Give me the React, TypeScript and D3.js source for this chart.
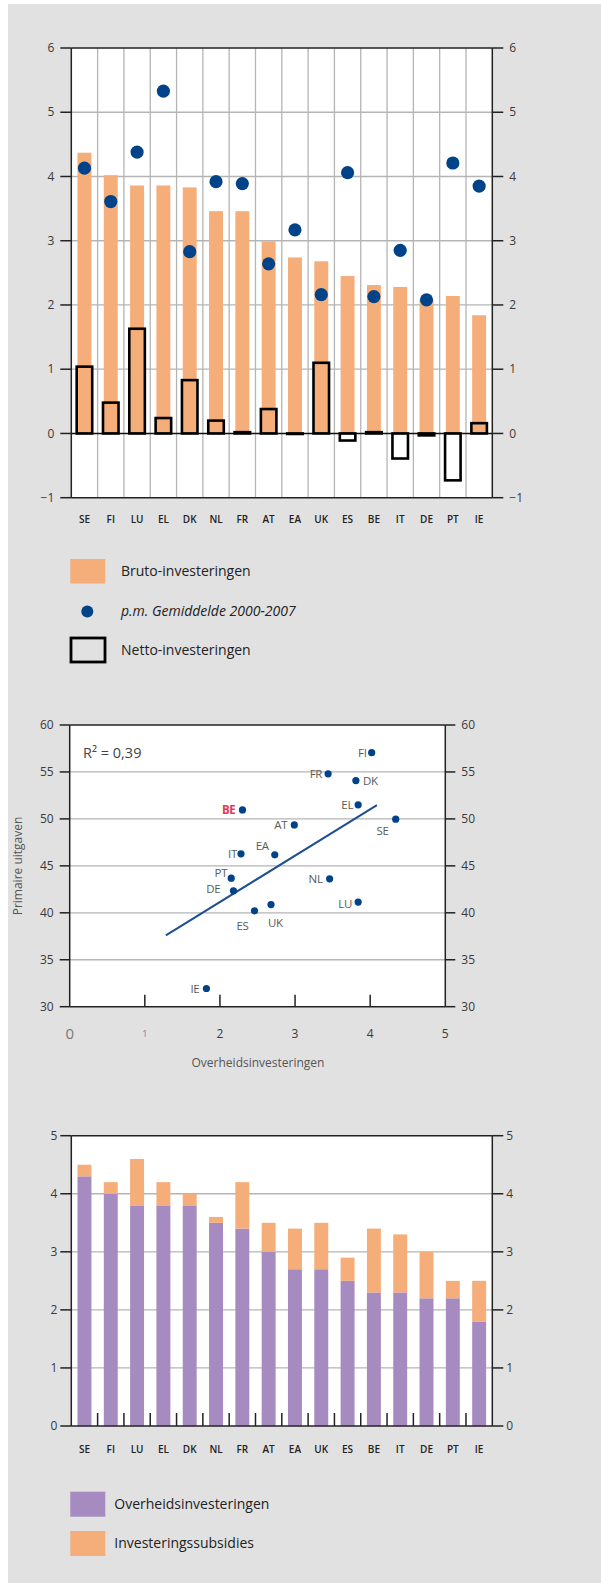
import React from 'react';
import * as d3 from 'd3';

// ---------- Data ----------
const countries = ['SE', 'FI', 'LU', 'EL', 'DK', 'NL', 'FR', 'AT', 'EA', 'UK', 'ES', 'BE', 'IT', 'DE', 'PT', 'IE'];
const brutoInvesteringen = [4.37, 4.02, 3.86, 3.86, 3.83, 3.46, 3.46, 2.99, 2.74, 2.68, 2.45, 2.31, 2.28, 2.08, 2.14, 1.84];
const gemiddelde20002007 = [4.13, 3.61, 4.38, 5.33, 2.83, 3.92, 3.89, 2.64, 3.17, 2.16, 4.06, 2.13, 2.85, 2.08, 4.21, 3.85];
const nettoInvesteringen = [1.04, 0.48, 1.63, 0.24, 0.83, 0.2, 0.02, 0.38, 0.0, 1.1, -0.11, 0.02, -0.39, -0.03, -0.73, 0.16];
const chart1Ticks = [-1, 0, 1, 2, 3, 4, 5, 6];

const scatterCountries = ['FI', 'FR', 'DK', 'EL', 'SE', 'BE', 'AT', 'IT', 'EA', 'PT', 'DE', 'NL', 'ES', 'UK', 'LU', 'IE'];
const scatterInvesteringen = [4.02, 3.44, 3.81, 3.84, 4.34, 2.3, 2.99, 2.28, 2.73, 2.15, 2.18, 3.46, 2.46, 2.68, 3.84, 1.82];
const scatterPrimaireUitgaven = [57.05, 54.8, 54.08, 51.5, 49.97, 50.96, 49.36, 46.28, 46.17, 43.69, 42.34, 43.62, 40.21, 40.88, 41.14, 31.94];
const trendX = [1.28, 4.09];
const trendY = [37.6, 51.46];
const scatterYTicks = [30, 35, 40, 45, 50, 55, 60];
const scatterXTicks = [0, 1, 2, 3, 4, 5];
const rSquaredLabel = 'R² = 0,39';

const overheidsInvesteringen = [4.3, 4.0, 3.8, 3.8, 3.8, 3.5, 3.4, 3.0, 2.7, 2.7, 2.5, 2.3, 2.3, 2.2, 2.2, 1.8];
const investeringsSubsidies = [0.2, 0.2, 0.8, 0.4, 0.2, 0.1, 0.8, 0.5, 0.7, 0.8, 0.4, 1.1, 1.0, 0.8, 0.3, 0.7];
const chart3Ticks = [0, 1, 2, 3, 4, 5];

// ---------- Layout / style (not data) ----------
const FONT = "'Open Sans', 'Noto Sans', sans-serif";
const ORANGE = '#f5ad7a';
const PURPLE = '#a68bc1';
const BLUE = '#004388';
const GRID = '#b5b5b5';
const BG = '#e1e1e1';
const TXT = '#3a3a3a';

const labelOffsets: Record<string, [number, number, string]> = {
  FI: [-5, 0, 'end'], FR: [-6, 0, 'end'], DK: [7, 0, 'start'], EL: [-5, 0, 'end'],
  SE: [-7, 12, 'end'], BE: [-7, 0, 'end'], AT: [-7, 0, 'end'], IT: [-4, 0, 'end'],
  EA: [-6, -9, 'end'], PT: [-4, -5, 'end'], DE: [-13, -2, 'end'], NL: [-7, 0, 'end'],
  ES: [-6, 15, 'end'], UK: [-3, 18, 'start'], LU: [-6, 2, 'end'], IE: [-7, 0, 'end'],
};
const xTickStyle: Record<number, [number, string]> = {
  0: [15, '#777'], 1: [9, '#6b7fa3'], 2: [12, TXT], 3: [12, TXT], 4: [12, TXT], 5: [12, TXT],
};

const fmt = (v: number) => (v < 0 ? '\u2212' + Math.abs(v) : String(v));

function Chart1() {
  const left = 71.3, right = 492.3, top = 48, bottom = 497.7;
  const x = d3.scaleBand<string>().domain(countries).range([left, right]).padding(0);
  const y = d3.scaleLinear().domain([-1, 6]).range([bottom, top]);
  const bw = x.bandwidth();
  const barW = bw * 0.53;
  const netW = bw * 0.59;
  return (
    <g>
      <rect x={left} y={top} width={right - left} height={bottom - top} fill="#fff" />
      {chart1Ticks.filter(t => t !== 0 && t !== 6 && t !== -1).map(t => (
        <line key={'h' + t} x1={left} x2={right} y1={y(t)} y2={y(t)} stroke={GRID} strokeWidth={1.3} />
      ))}
      {countries.slice(1).map(c => (
        <line key={'v' + c} x1={x(c)!} x2={x(c)!} y1={top} y2={bottom} stroke={GRID} strokeWidth={1.3} />
      ))}
      {countries.map((c, i) => (
        <rect key={'b' + c} x={x(c)! + (bw - barW) / 2} y={y(brutoInvesteringen[i])} width={barW}
          height={y(0) - y(brutoInvesteringen[i])} fill={ORANGE} />
      ))}
      <line x1={left} x2={right} y1={y(0)} y2={y(0)} stroke="#111" strokeWidth={1.5} />
      {countries.map((c, i) => {
        const v = nettoInvesteringen[i];
        const y0 = y(Math.max(0, v));
        const y1 = y(Math.min(0, v));
        return (
          <rect key={'n' + c} x={x(c)! + (bw - netW) / 2} y={y0} width={netW} height={Math.max(0.5, y1 - y0)}
            fill="none" stroke="#000" strokeWidth={2.6} />
        );
      })}
      {countries.map((c, i) => (
        <circle key={'d' + c} cx={x(c)! + bw / 2} cy={y(gemiddelde20002007[i])} r={6.6} fill={BLUE} />
      ))}
      <line x1={left} x2={right} y1={top} y2={top} stroke="#222" strokeWidth={1.5} />
      <line x1={left} x2={right} y1={bottom} y2={bottom} stroke="#222" strokeWidth={1.5} />
      <line x1={left} x2={left} y1={top} y2={bottom} stroke="#222" strokeWidth={1.5} />
      <line x1={right} x2={right} y1={top} y2={bottom} stroke="#222" strokeWidth={1.5} />
      {chart1Ticks.map(t => (
        <g key={'t' + t}>
          <line x1={left - 11} x2={left} y1={y(t)} y2={y(t)} stroke="#222" strokeWidth={1.5} />
          <line x1={right} x2={right + 11} y1={y(t)} y2={y(t)} stroke="#222" strokeWidth={1.5} />
          <text x={left - 17} y={y(t)} dy="0.35em" textAnchor="end" fontSize={12} fill={TXT}>{fmt(t)}</text>
          <text x={right + 17} y={y(t)} dy="0.35em" textAnchor="start" fontSize={12} fill={TXT}>{fmt(t)}</text>
        </g>
      ))}
      {countries.map(c => (
        <text key={'l' + c} x={x(c)! + bw / 2} y={519} dy="0.35em" textAnchor="middle" fontSize={10}
          fill="#222" fontWeight={600}>{c}</text>
      ))}
      {/* legend */}
      <rect x={70.3} y={559} width={35} height={24.5} fill={ORANGE} />
      <text x={121} y={571.5} dy="0.35em" fontSize={14} fill="#222">Bruto-investeringen</text>
      <circle cx={87.3} cy={611.5} r={6} fill={BLUE} />
      <text x={121} y={611} dy="0.35em" fontSize={14} fill="#222" fontStyle="italic">p.m. Gemiddelde 2000-2007</text>
      <rect x={71} y={638} width={34} height={24} fill="none" stroke="#000" strokeWidth={2.8} />
      <text x={121} y={650} dy="0.35em" fontSize={14} fill="#222">Netto-investeringen</text>
    </g>
  );
}

function Chart2() {
  const left = 69.7, right = 445.3, top = 725, bottom = 1006.7;
  const x = d3.scaleLinear().domain([0, 5]).range([left, right]);
  const y = d3.scaleLinear().domain([30, 60]).range([bottom, top]);
  const line = d3.line<number>().x((d, i) => x(trendX[i])).y(d => y(d));
  return (
    <g>
      <rect x={left} y={top} width={right - left} height={bottom - top} fill="#fff" />
      {scatterYTicks.filter(t => t !== 30 && t !== 60).map(t => (
        <line key={'h' + t} x1={left} x2={right} y1={y(t)} y2={y(t)} stroke={GRID} strokeWidth={1.3} />
      ))}
      <line x1={left} x2={right} y1={top} y2={top} stroke="#222" strokeWidth={1.5} />
      <line x1={left} x2={right} y1={bottom} y2={bottom} stroke="#222" strokeWidth={1.5} />
      <line x1={left} x2={left} y1={top} y2={bottom} stroke="#222" strokeWidth={1.5} />
      <line x1={right} x2={right} y1={top} y2={bottom} stroke="#222" strokeWidth={1.5} />
      {scatterYTicks.map(t => (
        <g key={'t' + t}>
          <line x1={left - 10} x2={left} y1={y(t)} y2={y(t)} stroke="#222" strokeWidth={1.5} />
          <line x1={right} x2={right + 10} y1={y(t)} y2={y(t)} stroke="#222" strokeWidth={1.5} />
          <text x={left - 16} y={y(t)} dy="0.35em" textAnchor="end" fontSize={12} fill={TXT}>{t}</text>
          <text x={right + 16} y={y(t)} dy="0.35em" textAnchor="start" fontSize={12} fill={TXT}>{t}</text>
        </g>
      ))}
      {scatterXTicks.map(t => (
        <g key={'x' + t}>
          {t > 0 && t < 5 && (
            <line x1={x(t)} x2={x(t)} y1={bottom} y2={bottom - 12} stroke="#222" strokeWidth={1.5} />
          )}
          <text x={x(t)} y={1034} dy="0.35em" textAnchor="middle" fontSize={xTickStyle[t][0]}
            fill={xTickStyle[t][1]}>{t}</text>
        </g>
      ))}
      <path d={line(trendY) || ''} fill="none" stroke="#1d4f91" strokeWidth={2} />
      {scatterCountries.map((c, i) => {
        const px = x(scatterInvesteringen[i]);
        const py = y(scatterPrimaireUitgaven[i]);
        const [dx, dy, anchor] = labelOffsets[c];
        const isBE = c === 'BE';
        return (
          <g key={'p' + c}>
            <circle cx={px} cy={py} r={3.6} fill={BLUE} />
            <text x={px + dx} y={py + dy} dy="0.35em" textAnchor={anchor} fontSize={11.5}
              fill={isBE ? '#e03a55' : '#5a5a5a'} fontWeight={isBE ? 700 : 400}
              letterSpacing={-0.3}>{c}</text>
          </g>
        );
      })}
      <text x={83} y={752.5} dy="0.35em" fontSize={14.5} fill="#444">{rSquaredLabel}</text>
      <text x={258} y={1063} dy="0.35em" textAnchor="middle" fontSize={12} fill="#555">Overheidsinvesteringen</text>
      <text transform={`translate(18, 866) rotate(-90)`} dy="0.35em" textAnchor="middle" fontSize={12}
        fill="#555">Primaire uitgaven</text>
    </g>
  );
}

function Chart3() {
  const left = 71.3, right = 492.3, top = 1135.7, bottom = 1426;
  const x = d3.scaleBand<string>().domain(countries).range([left, right]).padding(0);
  const y = d3.scaleLinear().domain([0, 5]).range([bottom, top]);
  const bw = x.bandwidth();
  const barW = bw * 0.53;
  const stacked = d3.stack<number>()
    .keys(['base', 'sub'])
    .value((i, key) => (key === 'base' ? overheidsInvesteringen[i] : investeringsSubsidies[i]))(
      countries.map((_, i) => i)
    );
  const colors = [PURPLE, ORANGE];
  return (
    <g>
      <rect x={left} y={top} width={right - left} height={bottom - top} fill="#fff" />
      {chart3Ticks.filter(t => t !== 0 && t !== 5).map(t => (
        <line key={'h' + t} x1={left} x2={right} y1={y(t)} y2={y(t)} stroke={GRID} strokeWidth={1.3} />
      ))}
      {stacked.map((s, si) => s.map((d, i) => (
        <rect key={si + '-' + i} x={x(countries[i])! + (bw - barW) / 2} y={y(d[1])} width={barW}
          height={y(d[0]) - y(d[1])} fill={colors[si]} />
      )))}
      {countries.slice(1).map(c => (
        <line key={'v' + c} x1={x(c)!} x2={x(c)!} y1={bottom} y2={bottom - 13} stroke="#222" strokeWidth={1.5} />
      ))}
      <line x1={left} x2={right} y1={top} y2={top} stroke="#222" strokeWidth={1.5} />
      <line x1={left} x2={right} y1={bottom} y2={bottom} stroke="#222" strokeWidth={1.5} />
      <line x1={left} x2={left} y1={top} y2={bottom} stroke="#222" strokeWidth={1.5} />
      <line x1={right} x2={right} y1={top} y2={bottom} stroke="#222" strokeWidth={1.5} />
      {chart3Ticks.map(t => (
        <g key={'t' + t}>
          <line x1={left - 11} x2={left} y1={y(t)} y2={y(t)} stroke="#222" strokeWidth={1.5} />
          <line x1={right} x2={right + 11} y1={y(t)} y2={y(t)} stroke="#222" strokeWidth={1.5} />
          <text x={left - 14} y={y(t)} dy="0.35em" textAnchor="end" fontSize={12} fill={TXT}>{t}</text>
          <text x={right + 14} y={y(t)} dy="0.35em" textAnchor="start" fontSize={12} fill={TXT}>{t}</text>
        </g>
      ))}
      {countries.map(c => (
        <text key={'l' + c} x={x(c)! + bw / 2} y={1449} dy="0.35em" textAnchor="middle" fontSize={10}
          fill="#222" fontWeight={600}>{c}</text>
      ))}
      <rect x={70.3} y={1491.7} width={35} height={25} fill={PURPLE} />
      <text x={114.3} y={1504} dy="0.35em" fontSize={14} fill="#222">Overheidsinvesteringen</text>
      <rect x={70.3} y={1531} width={35} height={25} fill={ORANGE} />
      <text x={114.3} y={1542.7} dy="0.35em" fontSize={14} fill="#222">Investeringssubsidies</text>
    </g>
  );
}

export default function App() {
  return (
    <svg width={601} height={1585} style={{ position: 'absolute', left: 0, top: 0, fontFamily: FONT }}>
      <rect x={0} y={0} width={601} height={1585} fill="#fff" />
      <rect x={8} y={4} width={593} height={1579} fill={BG} />
      <Chart1 />
      <Chart2 />
      <Chart3 />
    </svg>
  );
}
